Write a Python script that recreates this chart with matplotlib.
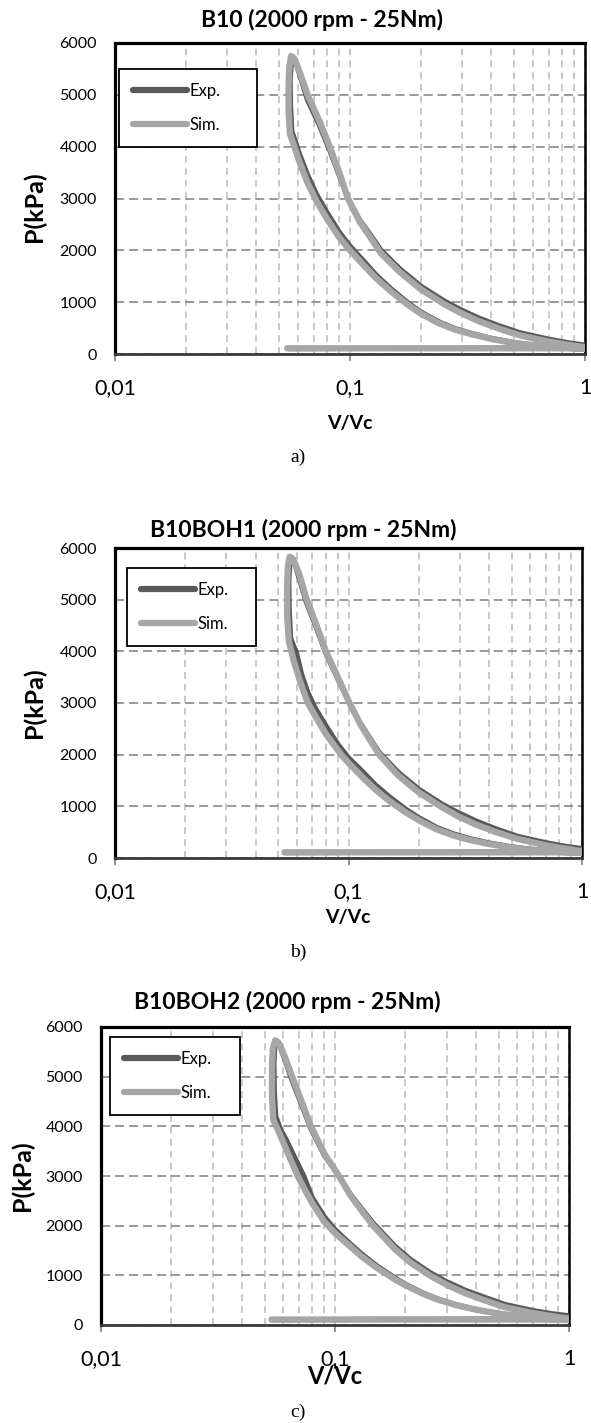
import matplotlib
matplotlib.use("Agg")
import matplotlib.pyplot as plt
from matplotlib.ticker import FixedLocator, FixedFormatter, NullFormatter, LogLocator

plt.rcParams['font.family'] = ['Lato', 'DejaVu Sans']
plt.rcParams['lines.scale_dashes'] = False

# ---- data ----
panel_titles = ["B10 (2000 rpm - 25Nm)", "B10BOH1 (2000 rpm - 25Nm)", "B10BOH2 (2000 rpm - 25Nm)"]
panel_tags = ["a)", "b)", "c)"]
series_names = ["Exp.", "Sim."]
x_ticks = [0.01, 0.1, 1]
x_ticklabels = ["0,01", "0,1", "1"]
y_ticks = [0, 1000, 2000, 3000, 4000, 5000, 6000]

# panel a
v_sim_a = [1.0, 0.8, 0.6, 0.5, 0.4, 0.33, 0.28, 0.24, 0.2, 0.175, 0.15, 0.13, 0.115, 0.1, 0.09, 0.08,
           0.072, 0.066, 0.061, 0.058, 0.0555, 0.0548, 0.0548, 0.0552, 0.0562,
           0.058, 0.0615, 0.066, 0.074, 0.082, 0.09, 0.098, 0.11, 0.122, 0.135, 0.163, 0.2, 0.252,
           0.294, 0.35, 0.43, 0.528, 0.7, 0.85, 1.0, 1.0, 0.054]
p_sim_a = [100, 125, 170, 210, 290, 380, 470, 590, 780, 960, 1200, 1450, 1700, 2000, 2250, 2600,
           2950, 3300, 3700, 4000, 4250, 4700, 5200, 5550, 5750,
           5700, 5400, 5000, 4500, 4000, 3500, 3000, 2550, 2250, 1950, 1580, 1250, 960,
           800, 640, 490, 360, 240, 175, 130, 110, 110]
v_exp_a = [1.0, 0.8, 0.6, 0.5, 0.4, 0.33, 0.28, 0.24, 0.2, 0.175, 0.15, 0.13, 0.115, 0.1, 0.09, 0.08,
           0.072, 0.066, 0.061, 0.0585, 0.0565, 0.0558, 0.0556, 0.0562, 0.0572,
           0.059, 0.0615, 0.066, 0.074, 0.082, 0.09, 0.098, 0.11, 0.122, 0.135, 0.163, 0.2, 0.252,
           0.294, 0.35, 0.43, 0.528, 0.7, 0.85, 1.0, 1.0, 0.055]
p_exp_a = [100, 130, 175, 220, 300, 395, 490, 615, 810, 1000, 1250, 1510, 1780, 2080, 2350, 2720,
           3080, 3450, 3850, 4100, 4300, 4800, 5300, 5600, 5720,
           5600, 5350, 4900, 4420, 3930, 3450, 3000, 2580, 2300, 2010, 1640, 1310, 1020,
           860, 700, 545, 410, 285, 215, 170, 120, 105]

# panel b
v_sim_b = [1.0, 0.8, 0.6, 0.5, 0.4, 0.33, 0.28, 0.24, 0.2, 0.175, 0.15, 0.13, 0.115, 0.1, 0.093, 0.08,
           0.072, 0.067, 0.062, 0.058, 0.0555, 0.0546, 0.0546, 0.055, 0.056,
           0.058, 0.0615, 0.066, 0.073, 0.08, 0.09, 0.101, 0.112, 0.123, 0.1355, 0.163, 0.2, 0.252,
           0.294, 0.35, 0.43, 0.528, 0.7, 0.85, 1.0, 1.0, 0.0532]
p_sim_b = [100, 120, 160, 200, 270, 350, 440, 550, 730, 890, 1100, 1330, 1560, 1840, 2000, 2400,
           2750, 3000, 3420, 3850, 4200, 4700, 5250, 5650, 5830,
           5780, 5500, 5020, 4500, 4000, 3500, 3000, 2600, 2300, 2000, 1600, 1270, 980,
           810, 650, 500, 370, 245, 180, 130, 110, 110]
v_exp_b = [1.0, 0.8, 0.6, 0.5, 0.4, 0.33, 0.28, 0.24, 0.2, 0.175, 0.15, 0.13, 0.115, 0.1, 0.09, 0.08,
           0.072, 0.067, 0.063, 0.0598, 0.0565, 0.0557, 0.0555, 0.056, 0.057,
           0.0588, 0.0615, 0.066, 0.073, 0.08, 0.09, 0.101, 0.112, 0.123, 0.1355, 0.163, 0.2, 0.252,
           0.294, 0.35, 0.43, 0.528, 0.7, 0.85, 1.0, 1.0, 0.054]
p_exp_b = [100, 125, 170, 215, 290, 375, 470, 585, 780, 950, 1180, 1420, 1670, 1940, 2200, 2560,
           2900, 3200, 3550, 3970, 4250, 4800, 5350, 5700, 5820,
           5700, 5420, 4950, 4450, 3960, 3470, 3000, 2620, 2330, 2040, 1660, 1330, 1040,
           880, 720, 560, 420, 295, 225, 180, 125, 105]

# panel c
v_sim_c = [1.0, 0.8, 0.6, 0.5, 0.4, 0.33, 0.28, 0.24, 0.2, 0.18, 0.15, 0.13, 0.115, 0.1, 0.09, 0.08,
           0.074, 0.0693, 0.063, 0.058, 0.0545, 0.0538, 0.0538, 0.0542, 0.0555,
           0.0575, 0.061, 0.0656, 0.072, 0.0789, 0.09, 0.104, 0.116, 0.13, 0.1455, 0.18, 0.21, 0.2536,
           0.3, 0.36, 0.44, 0.53, 0.7, 0.85, 1.0, 1.0, 0.0535]
p_sim_c = [100, 125, 180, 230, 310, 400, 500, 620, 800, 920, 1160, 1380, 1600, 1850, 2080, 2450,
           2740, 3000, 3450, 3850, 4130, 4600, 5150, 5550, 5730,
           5680, 5400, 5000, 4500, 4000, 3450, 3000, 2620, 2300, 2000, 1530, 1260, 1000,
           810, 640, 490, 360, 240, 175, 125, 110, 110]
v_exp_c = [1.0, 0.8, 0.6, 0.5, 0.4, 0.33, 0.28, 0.24, 0.2, 0.18, 0.15, 0.13, 0.115, 0.1, 0.09, 0.08,
           0.0735, 0.0665, 0.062, 0.0586, 0.0558, 0.055, 0.0548, 0.0552, 0.0563,
           0.0585, 0.061, 0.0656, 0.072, 0.0789, 0.09, 0.104, 0.116, 0.13, 0.1455, 0.18, 0.21, 0.2536,
           0.3, 0.36, 0.44, 0.53, 0.7, 0.85, 1.0, 1.0, 0.054]
p_exp_c = [100, 125, 180, 230, 310, 405, 510, 635, 820, 950, 1200, 1430, 1650, 1920, 2180, 2560,
           3000, 3420, 3720, 3930, 4200, 4700, 5250, 5600, 5720,
           5580, 5350, 4920, 4440, 3950, 3420, 3000, 2640, 2340, 2050, 1590, 1320, 1060,
           870, 700, 550, 415, 290, 225, 185, 125, 105]

exp_v = [v_exp_a, v_exp_b, v_exp_c]
exp_p = [p_exp_a, p_exp_b, p_exp_c]
sim_v = [v_sim_a, v_sim_b, v_sim_c]
sim_p = [p_sim_a, p_sim_b, p_sim_c]

# ---- layout in pixels of the reference (left, right, top, bottom) ----
W, H = 591, 1423
axes_px = [(115, 585, 43, 354), (115, 582, 548, 858), (101, 569, 1027, 1325)]
title_px = [(322, 20), (303, 530), (287, 1002)]
ylabel_px = [(34, 207), (34, 703), (22, 1176)]
xlabel_px = [(350, 423, 14), (348, 917, 14), (335, 1376, 17)]
tag_px = [(298, 457), (298, 952), (298, 1412)]
legend_px = [(119, 69, 257, 143), (127, 568, 256, 647), (110, 1037, 240, 1108)]

EXP_COLOR = "#595959"
SIM_COLOR = "#a6a6a6"

fig = plt.figure(figsize=(W / 100, H / 100), dpi=100)

for i in range(3):
    l, r, t, b = axes_px[i]
    ax = fig.add_axes([l / W, 1 - b / H, (r - l) / W, (b - t) / H])

    ax.plot(exp_v[i], exp_p[i], color=EXP_COLOR, lw=3.8, solid_capstyle="round",
            solid_joinstyle="round", label=series_names[0], zorder=3)
    ax.plot(sim_v[i], sim_p[i], color=SIM_COLOR, lw=4.6, solid_capstyle="round",
            solid_joinstyle="round", label=series_names[1], zorder=4)

    ax.set_xscale("log")
    ax.set_xlim(0.01, 1)
    ax.set_ylim(0, 6000)

    ax.xaxis.set_major_locator(FixedLocator(x_ticks))
    ax.xaxis.set_major_formatter(FixedFormatter(x_ticklabels))
    ax.xaxis.set_minor_locator(LogLocator(base=10, subs=range(2, 10)))
    ax.xaxis.set_minor_formatter(NullFormatter())
    ax.set_yticks(y_ticks)

    ax.tick_params(axis="x", which="major", direction="out", length=5, width=1.2,
                   color="#808080", labelsize=15.5, pad=12)
    ax.tick_params(axis="x", which="minor", length=0)
    ax.tick_params(axis="y", length=0, labelsize=11.5, pad=13)

    ax.set_axisbelow(True)
    ax.yaxis.grid(True, color="#7f7f7f", lw=1.1, linestyle=(0, (6.5, 3.6)))
    ax.xaxis.grid(True, which="both", color="#bfbfbf", lw=1.2, linestyle=(0, (5, 3.6)))

    for side in ("left", "top"):
        ax.spines[side].set_linewidth(2.3)
        ax.spines[side].set_color("black")
    ax.spines["right"].set_linewidth(1.8)
    ax.spines["right"].set_color("black")
    ax.spines["bottom"].set_linewidth(2.0)
    ax.spines["bottom"].set_color("#3a3a3a")

    # legend box stretched to the reference frame width
    x0, y0, x1, y1 = legend_px[i]
    box = ((x0 - l) / (r - l), (b - y1) / (b - t), (x1 - x0) / (r - l), (y1 - y0) / (b - t))
    leg = ax.legend(loc="upper left", bbox_to_anchor=box, mode="expand",
                    borderaxespad=0, fontsize=12, handlelength=3.2, handletextpad=0.2,
                    labelspacing=1.05, borderpad=0.85, fancybox=False, framealpha=1)
    leg.get_frame().set_edgecolor("black")
    leg.get_frame().set_linewidth(1.3)
    for h in leg.get_lines():
        h.set_linewidth(4.5)

    tx, ty = title_px[i]
    fig.text(tx / W, 1 - ty / H, panel_titles[i], ha="center", va="center",
             fontsize=16.5, fontweight="bold")
    yx, yy = ylabel_px[i]
    fig.text(yx / W, 1 - yy / H, "P(kPa)", ha="center", va="center", rotation=90,
             fontsize=18, fontweight="bold")
    xx, xy, xs = xlabel_px[i]
    fig.text(xx / W, 1 - xy / H, "V/Vc", ha="center", va="center",
             fontsize=xs, fontweight="bold")
    gx, gy = tag_px[i]
    fig.text(gx / W, 1 - gy / H, panel_tags[i], ha="center", va="center",
             fontsize=14, family=["Liberation Serif", "DejaVu Serif"])

fig.savefig("out.png", dpi=100)
